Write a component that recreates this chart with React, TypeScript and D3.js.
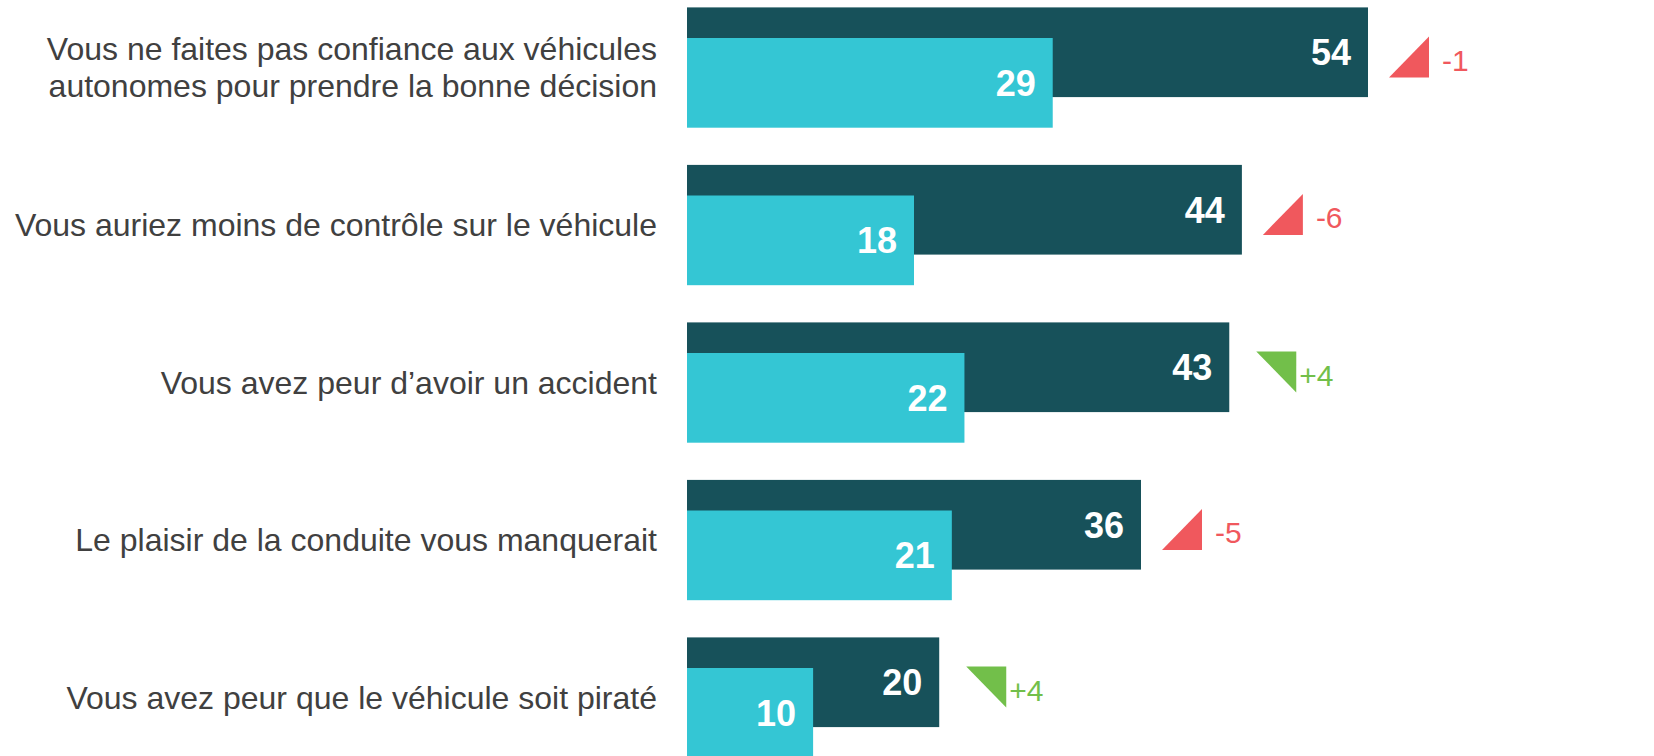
import React from 'react';
import * as d3 from 'd3';

const categories = [
  ['Vous ne faites pas confiance aux véhicules', 'autonomes pour prendre la bonne décision'],
  ['Vous auriez moins de contrôle sur le véhicule'],
  ['Vous avez peur d’avoir un accident'],
  ['Le plaisir de la conduite vous manquerait'],
  ['Vous avez peur que le véhicule soit piraté'],
];
const darkValues = [54, 44, 43, 36, 20];
const lightValues = [29, 18, 22, 21, 10];
const changes = [-1, -6, 4, -5, 4];

const W = 1654;
const H = 756;
const DARK = '#17515A';
const LIGHT = '#34C6D4';
const RED = '#F0585D';
const GREEN = '#72BF4A';
const FONT = '"Liberation Sans", Arial, sans-serif';

const App = () => {
  const ids = categories.map((_, i) => String(i));
  const x = d3.scaleLinear().domain([0, 54]).range([687, 1368]);
  const y = d3.scaleBand().domain(ids).range([7.4, 757.7]).paddingInner(0.2362).paddingOuter(0);
  const bw = y.bandwidth();
  const barH = bw * 0.7456; // each bar
  const offset = bw - barH; // light bar shift

  return (
    <svg width={W} height={H} style={{ position: 'absolute', left: 0, top: 0, background: '#fff' }}>
      {ids.map((id, i) => {
        const top = y(id) as number;
        const mid = top + bw / 2;
        const lines = categories[i];
        const lh = 37;
        const d = darkValues[i];
        const l = lightValues[i];
        const c = changes[i];
        const up = c > 0;
        const tx = x(d) + (up ? 27 : 21);
        const ty0 = top + 29;
        const ty1 = top + 70;
        const tw = 40;
        const tri = up
          ? `M${tx},${ty0}L${tx + tw},${ty0}L${tx + tw},${ty1}Z`
          : `M${tx + tw},${ty0}L${tx + tw},${ty1}L${tx},${ty1}Z`;
        return (
          <g key={id}>
            <text
              x={657}
              textAnchor="end"
              fontFamily={FONT}
              fontSize={32}
              fill="#404040"
            >
              {lines.map((t, j) => (
                <tspan key={j} x={657} y={mid + (j - (lines.length - 1) / 2) * lh} dy="0.35em">
                  {t}
                </tspan>
              ))}
            </text>
            <rect x={x(0)} y={top} width={x(d) - x(0)} height={barH} fill={DARK} />
            <rect x={x(0)} y={top + offset} width={x(l) - x(0)} height={barH} fill={LIGHT} />
            <text
              x={x(d) - 17}
              y={top + barH / 2}
              dy="0.36em"
              textAnchor="end"
              fontFamily={FONT}
              fontWeight="bold"
              fontSize={36}
              fill="#fff"
            >
              {d}
            </text>
            <text
              x={x(l) - 17}
              y={top + offset + barH / 2}
              dy="0.36em"
              textAnchor="end"
              fontFamily={FONT}
              fontWeight="bold"
              fontSize={36}
              fill="#fff"
            >
              {l}
            </text>
            <path d={tri} fill={up ? GREEN : RED} />
            <text
              x={tx + tw + (up ? 3 : 13)}
              y={(ty0 + ty1) / 2 + 3}
              dy="0.36em"
              fontFamily={FONT}
              fontSize={30}
              fill={up ? GREEN : RED}
            >
              {up ? `+${c}` : `${c}`}
            </text>
          </g>
        );
      })}
    </svg>
  );
};

export default App;
